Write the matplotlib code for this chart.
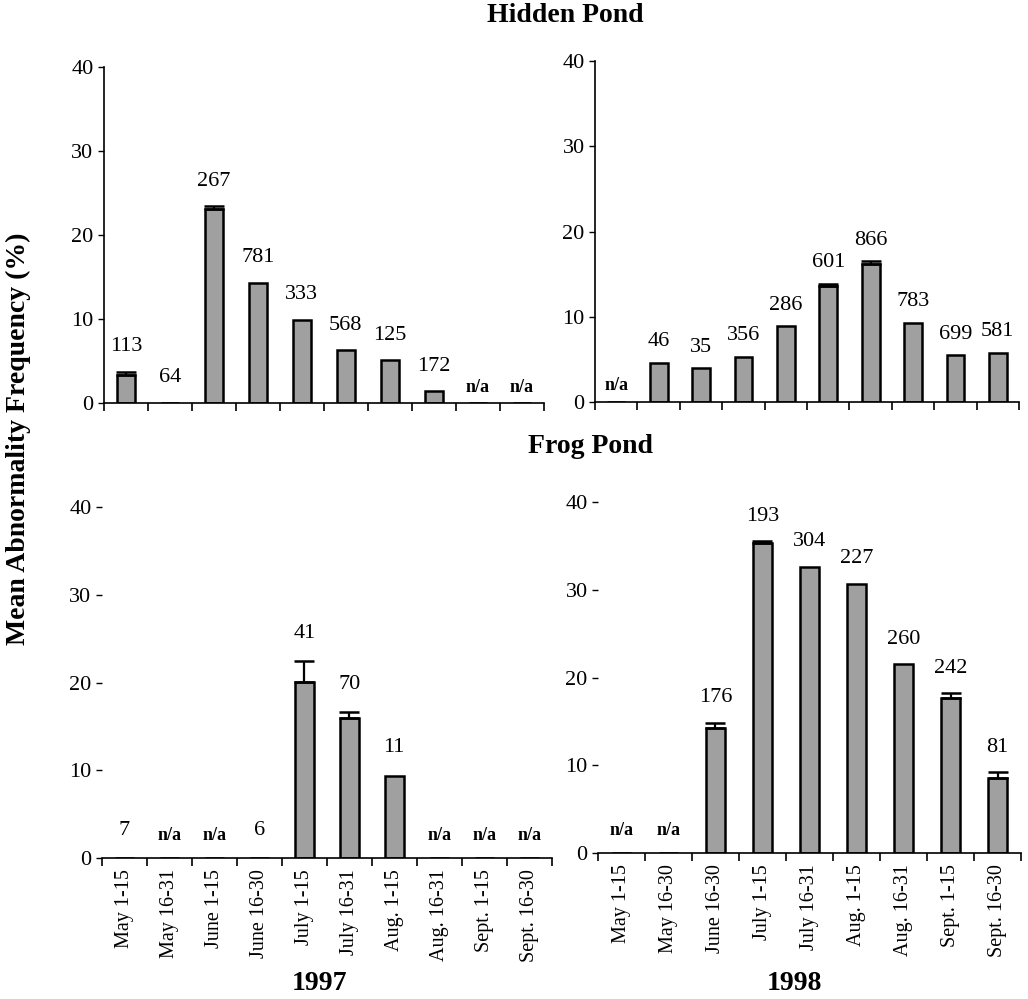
import matplotlib
matplotlib.use("Agg")
import matplotlib.pyplot as plt
import numpy as np

plt.rcParams['font.family'] = ['Liberation Serif', 'DejaVu Serif']

# ---------------- data ----------------
periods_1997 = ["May 1-15", "May 16-31", "June 1-15", "June 16-30", "July 1-15",
                "July 16-31", "Aug. 1-15", "Aug. 16-31", "Sept. 1-15", "Sept. 16-30"]
periods_1998_hidden = ["May 1-15", "May 16-30", "June 1-15", "June 16-30", "July 1-15",
                       "July 16-31", "Aug. 1-15", "Aug. 16-31", "Sept. 1-15", "Sept. 16-30"]
periods_1998_frog = ["May 1-15", "May 16-30", "June 16-30", "July 1-15", "July 16-31",
                     "Aug. 1-15", "Aug. 16-31", "Sept. 1-15", "Sept. 16-30"]

# Hidden Pond 1997
hp97_vals = [3.3, 0.0, 23.1, 14.3, 9.9, 6.3, 5.1, 1.4, None, None]
hp97_err = [0.4, 0, 0.3, 0, 0, 0, 0, 0, 0, 0]
hp97_n = ["113", "64", "267", "781", "333", "568", "125", "172", "n/a", "n/a"]

# Hidden Pond 1998
hp98_vals = [None, 4.6, 4.0, 5.3, 8.9, 13.6, 16.2, 9.3, 5.5, 5.8]
hp98_err = [0, 0, 0, 0, 0, 0.3, 0.3, 0, 0, 0]
hp98_n = ["n/a", "46", "35", "356", "286", "601", "866", "783", "699", "581"]

# Frog Pond 1997
fp97_vals = [0.0, None, None, 0.0, 20.1, 15.9, 9.4, None, None, None]
fp97_err = [0, 0, 0, 0, 2.3, 0.7, 0, 0, 0, 0]
fp97_n = ["7", "n/a", "n/a", "6", "41", "70", "11", "n/a", "n/a", "n/a"]

# Frog Pond 1998
fp98_vals = [None, None, 14.2, 35.3, 32.6, 30.7, 21.5, 17.7, 8.5]
fp98_err = [0, 0, 0.65, 0.2, 0, 0, 0, 0.5, 0.7]
fp98_n = ["n/a", "n/a", "176", "193", "304", "227", "260", "242", "81"]

yticks = [0, 10, 20, 30, 40]

# ---------------- figure ----------------
fig = plt.figure(figsize=(10.28, 9.99), dpi=100)

panels = [
    # rect, values, errors, labels, categories, show xlabels, left spine, label offset, n/a offset (pt)
    ([0.101, 0.5966, 0.428, 0.3363], hp97_vals, hp97_err, hp97_n, periods_1997, False, True, 18, 11),
    ([0.5788, 0.5976, 0.4125, 0.3413], hp98_vals, hp98_err, hp98_n, periods_1998_hidden, False, True, 15, 12),
    ([0.0992, 0.1411, 0.4374, 0.3514], fp97_vals, fp97_err, fp97_n, periods_1997, True, False, 20, 16),
    ([0.5817, 0.1461, 0.4115, 0.3514], fp98_vals, fp98_err, fp98_n, periods_1998_frog, True, False, 18, 16),
]

for rect, vals, errs, labels, cats, showx, leftspine, off, naoff in panels:
    ax = fig.add_axes(rect)
    n = len(cats)
    x = np.arange(n) + 0.5
    h = np.array([0.0 if v is None else v for v in vals])
    e = np.array(errs, dtype=float)
    ax.bar(x, h, width=0.42, color='#a0a0a0', edgecolor='black', linewidth=1.8, zorder=2)
    for xi, hi, ei in zip(x, h, e):
        if ei > 0:
            ax.errorbar([xi], [hi], yerr=[[0], [ei]], fmt='none', ecolor='black',
                        elinewidth=1.6, capsize=7, capthick=1.8, zorder=3)
    for xi, hi, ei, lab, v in zip(x, h, e, labels, vals):
        if lab == "n/a":
            ax.annotate(lab, (xi, 0), xytext=(0, naoff), textcoords='offset points',
                        ha='center', va='center', fontsize=13, fontweight='bold')
        else:
            ax.annotate(lab, (xi, hi + ei), xytext=(0, off), textcoords='offset points',
                        ha='center', va='center', fontsize=16)
    ax.set_xlim(0, n)
    ax.set_ylim(0, 40)
    ax.set_yticks(yticks)
    ax.tick_params(axis='y', labelsize=16, length=4, width=1, direction='out')
    ax.set_xticks(np.arange(n + 1))
    ax.tick_params(axis='x', which='major', length=6, width=1.2, direction='out', labelbottom=False)
    if showx:
        ax.set_xticks(x, minor=True)
        ax.set_xticklabels(cats, minor=True, rotation=90, fontsize=14.5)
        ax.tick_params(axis='x', which='minor', length=0, pad=8)
    for s in ['top', 'right']:
        ax.spines[s].set_visible(False)
    ax.spines['left'].set_visible(leftspine)
    ax.spines['bottom'].set_linewidth(1.2)
    ax.spines['left'].set_linewidth(1.2)
    ax.patch.set_alpha(0)

fig.text(0.55, 0.984, "Hidden Pond", ha='center', va='center', fontsize=20, fontweight='bold')
fig.text(0.574, 0.553, "Frog Pond", ha='center', va='center', fontsize=20, fontweight='bold')
fig.text(0.311, 0.016, "1997", ha='center', va='center', fontsize=20, fontweight='bold')
fig.text(0.773, 0.016, "1998", ha='center', va='center', fontsize=20, fontweight='bold')
fig.text(0.018, 0.5606, "Mean Abnormality Frequency (%)", ha='center', va='center',
         rotation=90, fontsize=20, fontweight='bold')

fig.savefig("out.png", dpi=100)
